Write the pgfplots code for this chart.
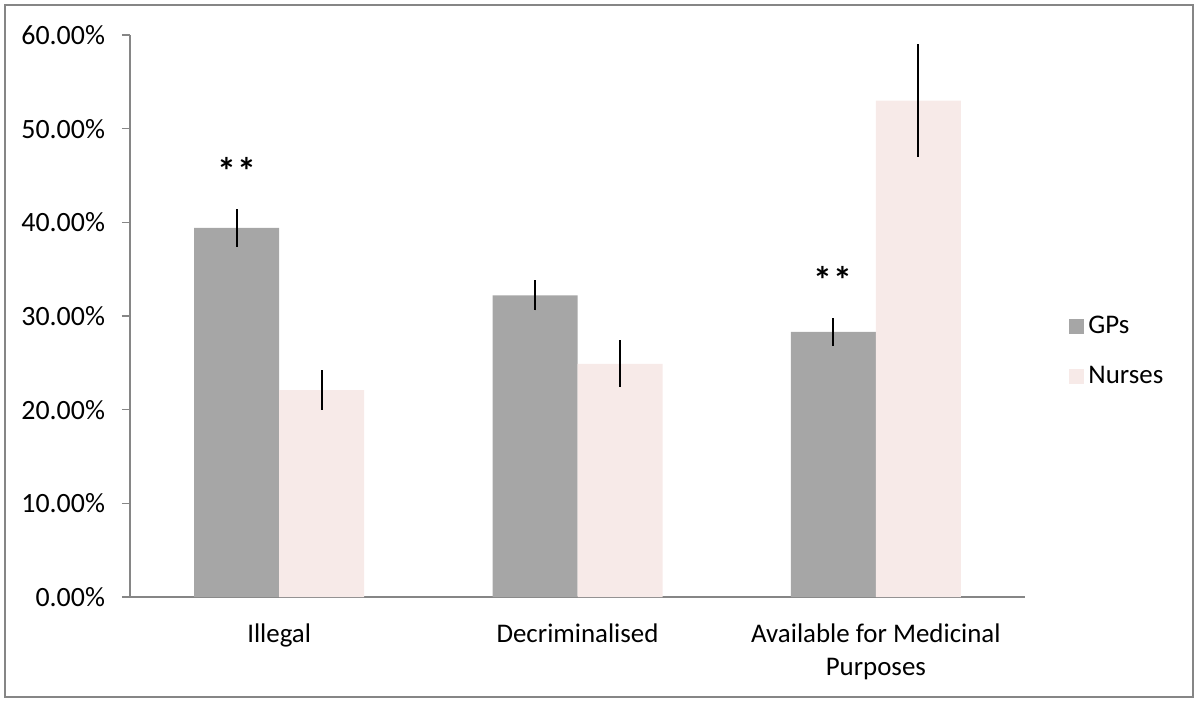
\documentclass[border=0pt]{standalone}
\usepackage{pgfplots}
\pgfplotsset{compat=1.18}
\usepackage{fontspec}
\setmainfont{Carlito}
\definecolor{gpcol}{HTML}{A6A6A6}
\definecolor{nucol}{HTML}{F7EAE8}
\definecolor{axcol}{HTML}{868686}
\begin{document}
\begin{tikzpicture}[x=1bp,y=1bp]
\useasboundingbox (-65,-54) rectangle (535,298.5);
\draw[axcol,line width=0.8bp] (-62.5,-50) rectangle (531.5,296);
\begin{axis}[
  at={(0,0)}, anchor=south west,
  scale only axis,
  width=447.5bp, height=281bp,
  ybar=0pt, bar width=42.5bp,
  xmin=-0.5, xmax=2.5, ymin=0, ymax=60,
  axis x line*=bottom, axis y line*=left,
  axis line style={axcol, line width=0.8bp},
  xtick={0,1,2},
  xticklabels={Illegal, Decriminalised, {Available for Medicinal\\Purposes}},
  xticklabel style={align=center, yshift=-6bp},
  x tick label style={font=\fontsize{13.5}{16.5}\selectfont},
  xtick style={draw=none},
  extra x ticks={-0.5,0.5,1.5,2.5},
  extra x tick labels={},
  extra x tick style={major tick length=4bp, tick align=outside, tick style={axcol, line width=0.8bp}},
  ytick={0,10,20,30,40,50,60},
  yticklabels={0.00\%,10.00\%,20.00\%,30.00\%,40.00\%,50.00\%,60.00\%},
  y tick label style={font=\fontsize{14}{17}\selectfont, xshift=-5bp},
  ytick style={axcol, line width=0.8bp},
  tick align=outside, major tick length=4bp,
  legend style={draw=none, at={(1.0425,0.437)}, anchor=west, font=\fontsize{13.5}{16}\selectfont, row sep=11bp, fill=none},
  legend cell align=left,
  legend image code/.code={\fill[#1] (0bp,-3.75bp) rectangle (7.5bp,3.75bp);},
]
\addplot[fill=gpcol, draw=none, error bars/.cd, y dir=both, y explicit, error mark=none, error bar style={black, line width=1.1bp}]
  coordinates {(0,39.4) +- (0,2.0) (1,32.2) +- (0,1.6) (2,28.3) +- (0,1.45)};
\addplot[fill=nucol, draw=none, error bars/.cd, y dir=both, y explicit, error mark=none, error bar style={black, line width=1.1bp}]
  coordinates {(0,22.1) +- (0,2.1) (1,24.9) +- (0,2.5) (2,53.0) +- (0,6.0)};
\legend{GPs, Nurses}
\node[font=\fontsize{19}{22}\selectfont\bfseries, anchor=north, inner sep=0pt] at (axis cs:-0.1425,47.0) {*\kern0.5bp*};
\node[font=\fontsize{19}{22}\selectfont\bfseries, anchor=north, inner sep=0pt] at (axis cs:1.8575,35.35) {*\kern0.5bp*};
\end{axis}
\end{tikzpicture}
\end{document}
